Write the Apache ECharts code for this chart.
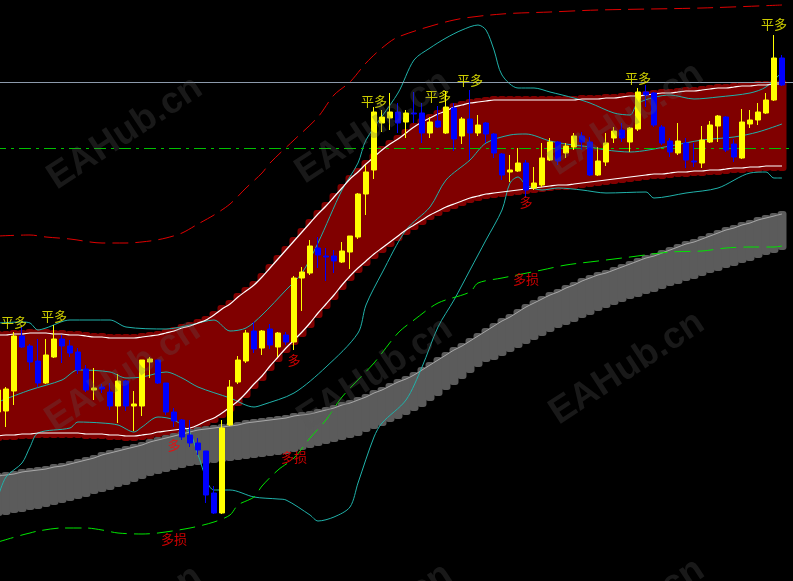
<!DOCTYPE html>
<html>
<head>
<meta charset="utf-8">
<script src="https://cdn.jsdelivr.net/npm/echarts/dist/echarts.min.js"></script>
<style>
html, body { margin: 0; padding: 0; background: #000; overflow: hidden; }
/* the first bar sits half outside the window, so the chart starts a little left of it */
#chart { width: 800px; height: 581px; margin-left: -6px; }
</style>
</head>
<body>
<div id="chart"></div>
<script>
var candles = [
    [412, 390, 414, 385], [411, 389, 427, 387], [391, 336, 405, 332], [336, 347, 348, 327], [346, 362, 370, 344],
    [361, 383, 387, 339], [383, 355, 384, 339], [357, 339, 358, 325], [339, 346, 363, 335], [346, 353, 357, 340],
    [352, 370, 374, 348], [369, 390, 392, 365], [390, 388, 400, 368], [387, 389, 393, 384], [392, 406, 410, 383],
    [406, 381, 423, 374], [381, 406, 411, 380], [406, 404, 431, 391], [406, 360, 416, 360], [362, 359, 378, 357],
    [360, 383, 384, 360], [383, 412, 415, 383], [412, 421, 427, 408], [420, 437, 440, 419], [435, 443, 447, 420],
    [443, 450, 455, 438], [451, 495, 503, 451], [493, 513, 514, 486], [513, 428, 514, 420], [425, 387, 426, 380],
    [382, 360, 384, 356], [361, 333, 363, 330], [331, 349, 353, 322], [348, 331, 355, 330], [329, 345, 349, 324],
    [347, 333, 357, 332], [335, 342, 345, 332], [342, 278, 350, 276], [278, 272, 311, 267], [273, 246, 275, 240],
    [248, 255, 268, 237], [256, 257, 281, 248], [256, 261, 273, 250], [262, 251, 263, 242], [252, 236, 269, 236],
    [237, 194, 239, 193], [194, 172, 215, 165], [170, 112, 179, 107], [123, 117, 132, 110], [118, 112, 130, 93],
    [112, 123, 133, 103], [122, 113, 138, 110], [113, 114, 123, 92], [113, 133, 143, 103], [133, 122, 138, 117],
    [121, 127, 128, 106], [133, 107, 134, 91], [108, 139, 151, 103], [136, 119, 144, 117], [119, 133, 160, 90],
    [133, 125, 136, 115], [123, 134, 143, 122], [134, 153, 158, 133], [154, 175, 180, 153], [172, 170, 182, 155],
    [171, 163, 172, 148], [163, 190, 197, 160], [188, 183, 190, 167], [185, 158, 187, 143], [160, 142, 161, 138],
    [142, 161, 165, 141], [153, 146, 158, 143], [147, 136, 150, 133], [136, 142, 150, 132], [142, 175, 176, 137],
    [175, 161, 176, 147], [162, 143, 166, 133], [138, 131, 143, 127], [130, 138, 142, 123], [142, 128, 152, 127],
    [129, 92, 131, 88], [92, 95, 107, 85], [93, 125, 127, 92], [127, 143, 145, 125], [141, 152, 157, 138],
    [153, 141, 155, 123], [143, 160, 168, 138], [161, 162, 167, 143], [163, 140, 168, 126], [142, 125, 143, 121],
    [126, 116, 142, 115], [117, 150, 152, 116], [144, 157, 162, 139], [158, 122, 159, 109], [124, 120, 128, 110],
    [120, 112, 125, 103], [113, 100, 114, 93], [100, 58, 101, 35], [58, 85, 86, 55]
];

var bandTop = [
    335, 335, 334, 334, 333, 333, 333, 334, 334, 335,
    335, 336, 337, 337, 338, 338, 338, 338, 337, 336,
    335, 333, 331, 328, 326, 323, 320, 315, 309, 304,
    297, 291, 285, 277, 268, 259, 250, 241, 232, 223,
    214, 206, 197, 188, 179, 172, 164, 157, 150, 144,
    139, 133, 127, 122, 118, 114, 111, 107, 105, 103,
    102, 101, 100, 100, 100, 100, 100, 100, 100, 100,
    100, 100, 100, 99, 99, 99, 98, 98, 97, 96,
    96, 95, 94, 93, 93, 92, 91, 91, 90, 89,
    88, 88, 87, 86, 86, 85, 85, 84, 84
];

var bandBottom = [
    436, 435, 435, 434, 434, 433, 433, 433, 433, 433,
    433, 434, 434, 434, 435, 435, 436, 436, 435, 434,
    432, 431, 430, 429, 428, 425, 421, 418, 413, 407,
    401, 393, 384, 376, 366, 357, 348, 340, 332, 323,
    313, 304, 295, 285, 276, 268, 261, 254, 248, 242,
    236, 230, 225, 220, 215, 211, 207, 204, 201, 198,
    196, 194, 193, 192, 191, 190, 189, 188, 187, 186,
    185, 185, 184, 183, 182, 181, 180, 179, 178, 177,
    176, 175, 174, 174, 173, 172, 172, 171, 171, 170,
    170, 169, 168, 168, 167, 167, 166, 166, 166
];

var grayTop = [
    476, 475, 474, 472, 471, 470, 469, 467, 466, 464,
    462, 460, 458, 455, 453, 451, 449, 447, 445, 442,
    440, 438, 436, 434, 432, 430, 429, 428, 427, 426,
    425, 423, 422, 421, 420, 419, 418, 416, 415, 414,
    412, 410, 408, 405, 403, 400, 397, 393, 390, 386,
    382, 379, 375, 370, 365, 360, 355, 350, 346, 341,
    336, 331, 326, 321, 317, 312, 307, 303, 299, 295,
    292, 288, 285, 281, 278, 275, 273, 270, 267, 264,
    261, 258, 256, 253, 250, 247, 244, 242, 239, 236,
    233, 230, 228, 225, 223, 220, 218, 216, 214
];

var grayBottom = [
    516, 515, 513, 512, 510, 509, 507, 505, 503, 501,
    499, 497, 494, 492, 490, 487, 485, 482, 479, 476,
    474, 472, 470, 468, 466, 465, 464, 463, 462, 461,
    460, 459, 458, 457, 456, 455, 454, 452, 450, 448,
    446, 444, 442, 440, 438, 436, 432, 429, 426, 422,
    419, 415, 411, 407, 401, 396, 390, 385, 379, 373,
    367, 362, 360, 356, 352, 348, 344, 340, 336, 332,
    328, 325, 322, 318, 315, 311, 308, 305, 302, 299,
    297, 294, 292, 289, 286, 284, 281, 279, 276, 273,
    271, 268, 266, 263, 261, 258, 255, 253, 250
];

// [bar index, level]
var cyanUpper = [[0, 323], [3, 322], [4, 323], [5, 330], [6, 328], [9, 320], [14, 320], [16, 327], [21, 329], [24, 325],
    [27, 320], [29, 331], [31, 328], [33, 315], [36, 290], [38, 273], [40, 243], [43, 190], [45, 163], [46, 140],
    [50, 93], [52, 60], [54, 48], [56, 38], [58, 30], [60, 25], [61, 30], [62, 50], [63, 75], [65, 88], [67, 88],
    [69, 92], [72, 98], [74, 103], [77, 113], [79, 115], [80, 103], [84, 95], [87, 99], [90, 97], [94, 93], [96, 87], [98, 72]];
var cyanMid = [[0, 402], [4, 390], [8, 380], [10, 370], [14, 372], [16, 378], [18, 377], [21, 372], [23, 378], [25, 387],
    [29, 398], [32, 407], [33, 405], [37, 393], [41, 367], [45, 333], [46, 305], [48, 273], [51, 230], [54, 207],
    [56, 180], [59, 160], [61, 143], [64, 135], [66, 134], [69, 141], [71, 144], [74, 147], [76, 150], [79, 152],
    [84, 146], [88, 140], [92, 137], [95, 132], [98, 124]];
var cyanLower = [[0, 497], [1, 477], [3, 463], [4, 447], [5, 433], [9, 428], [10, 422], [13, 423], [15, 425], [17, 432],
    [18, 427], [20, 417], [22, 420], [24, 433], [25, 455], [27, 490], [29, 490], [32, 497], [35, 499], [36, 500],
    [39, 515], [40, 521], [42, 517], [44, 507], [45, 483], [47, 437], [48, 423], [51, 400], [53, 367], [55, 327],
    [57, 300], [59, 270], [61, 240], [63, 210], [64, 183], [65, 177], [66, 185], [68, 190], [70, 188], [73, 190],
    [76, 193], [81, 192], [82, 198], [86, 193], [90, 188], [94, 173], [96, 172], [97, 178], [98, 178]];
var greenLower = [[0, 542], [3, 535], [4, 533], [5, 531], [8, 528], [11, 528], [13, 530], [15, 533], [18, 534], [20, 533],
    [24, 528], [27, 522], [29, 515], [30, 505], [32, 497], [33, 486], [35, 470], [37, 458], [39, 438], [41, 420],
    [43, 397], [47, 363], [50, 333], [52, 320], [55, 303], [59, 292], [60, 283], [63, 278], [68, 270], [71, 265],
    [75, 261], [79, 257], [84, 252], [88, 251], [91, 248], [94, 247], [97, 247], [98, 246]];
var redUpper = [[0, 236], [4, 235], [6, 237], [9, 239], [13, 243], [16, 243], [19, 241], [21, 238], [23, 233], [25, 224],
    [27, 215], [29, 204], [31, 188], [33, 173], [34, 163], [37, 140], [40, 117], [42, 95], [44, 82], [46, 63],
    [48, 48], [50, 37], [57, 20], [63, 14], [69, 12], [75, 10], [88, 8], [98, 5]];

var levelLines = [82, 148];

var signalIdx = [2, 7, 47, 55, 59, 80, 97, 37, 22, 66, 66, 37, 22];
var signalLevel = [322, 316, 101, 96, 80, 78, 24, 360, 445, 202, 279, 457, 539];
var signalText = ['平多', '平多', '平多', '平多', '平多', '平多', '平多', '多', '多', '多', '多损', '多损', '多损'];

var watermarkX = [131, 379, 632, 129, 381, 633, 131, 381, 633];
var watermarkY = [133, 127, 119, 375, 374, 368, 622, 620, 615];

(function() {
    var chart = echarts.init(document.getElementById('chart'));

    var categories = [];
    for (var i = 0; i <= candles.length; i++) {
        categories.push(i);
    }

    function lineSeries(data, color, width, type, z) {
        return {
            type: 'line',
            data: data,
            symbol: 'none',
            smooth: 0.3,
            silent: true,
            z: z,
            lineStyle: { color: color, width: width, type: type }
        };
    }

    // each bar of the band is a rounded block, which gives the scalloped edge
    function bandSeries(stack, top, bottom, padTop, padBottom, color, z) {
        return [{
            type: 'bar',
            stack: stack,
            barWidth: 9,
            barGap: '-100%',
            silent: true,
            z: z,
            itemStyle: { color: 'transparent' },
            data: top.map(function(v) { return v - padTop; })
        }, {
            type: 'bar',
            stack: stack,
            barWidth: 9,
            barGap: '-100%',
            silent: true,
            z: z,
            itemStyle: { color: color, borderRadius: 3 },
            data: top.map(function(v, i) { return bottom[i] + padBottom - (v - padTop); })
        }];
    }

    var signals = [];
    for (var k = 0; k < signalIdx.length; k++) {
        signals.push({
            value: [signalIdx[k], signalLevel[k], signalText[k]],
            label: { color: signalText[k] === '平多' ? '#ffff00' : '#ff0000' }
        });
    }

    var watermarks = [];
    for (var w = 0; w < watermarkX.length; w++) {
        watermarks.push({
            type: 'text',
            x: watermarkX[w],
            y: watermarkY[w],
            rotation: 0.58,
            z: 100,
            silent: true,
            style: {
                text: 'EAHub.cn',
                font: 'bold 37px "Liberation Sans", sans-serif',
                fill: 'rgba(90,90,90,0.28)',
                align: 'center',
                verticalAlign: 'middle'
            }
        });
    }

    var series = []
        .concat(bandSeries('red', bandTop, bandBottom, 4, 5, '#800000', 1))
        .concat(bandSeries('gray', grayTop, grayBottom, 3, 0, '#5b5b5b', 2))
        .concat([
            lineSeries(grayTop, '#a8a8a8', 1, 'solid', 3),
            lineSeries(cyanUpper, '#20b2aa', 1, 'solid', 4),
            lineSeries(cyanMid, '#20b2aa', 1, 'solid', 4),
            lineSeries(cyanLower, '#20b2aa', 1, 'solid', 4),
            lineSeries(greenLower, '#00e600', 1, [16, 7], 4),
            lineSeries(redUpper, '#e00000', 1, [16, 7], 4),
            lineSeries(bandTop, '#ffffff', 1.2, 'solid', 5),
            lineSeries(bandBottom, '#ffffff', 1.2, 'solid', 5),
            {
                type: 'candlestick',
                data: candles,
                barWidth: 5,
                silent: true,
                z: 6,
                itemStyle: {
                    color: '#0000ff',
                    color0: '#ffff00',
                    borderColor: '#0000ff',
                    borderColor0: '#ffff00',
                    borderWidth: 1
                },
                markLine: {
                    silent: true,
                    symbol: 'none',
                    label: { show: false },
                    data: [
                        { yAxis: levelLines[0], lineStyle: { color: '#8c9aab', width: 1, type: 'solid' } },
                        { yAxis: levelLines[1], lineStyle: { color: '#00c000', width: 1, type: [12, 5, 3, 5] } }
                    ]
                }
            },
            {
                type: 'scatter',
                data: signals,
                symbolSize: 1,
                silent: true,
                z: 7,
                itemStyle: { color: 'transparent' },
                label: {
                    show: true,
                    position: 'inside',
                    fontSize: 13,
                    fontFamily: '"Noto Sans CJK SC", sans-serif',
                    formatter: function(p) { return p.value[2]; }
                }
            }
        ]);

    var option = {
        animation: false,
        backgroundColor: '#000000',
        grid: { left: 0, right: 0, top: 0, bottom: 0 },
        xAxis: {
            type: 'category',
            data: categories,
            show: false
        },
        yAxis: {
            type: 'value',
            inverse: true,
            min: 0,
            max: 581,
            show: false,
            splitLine: { show: false }
        },
        graphic: watermarks,
        series: series
    };

    chart.setOption(option);
})();
</script>
</body>
</html>
